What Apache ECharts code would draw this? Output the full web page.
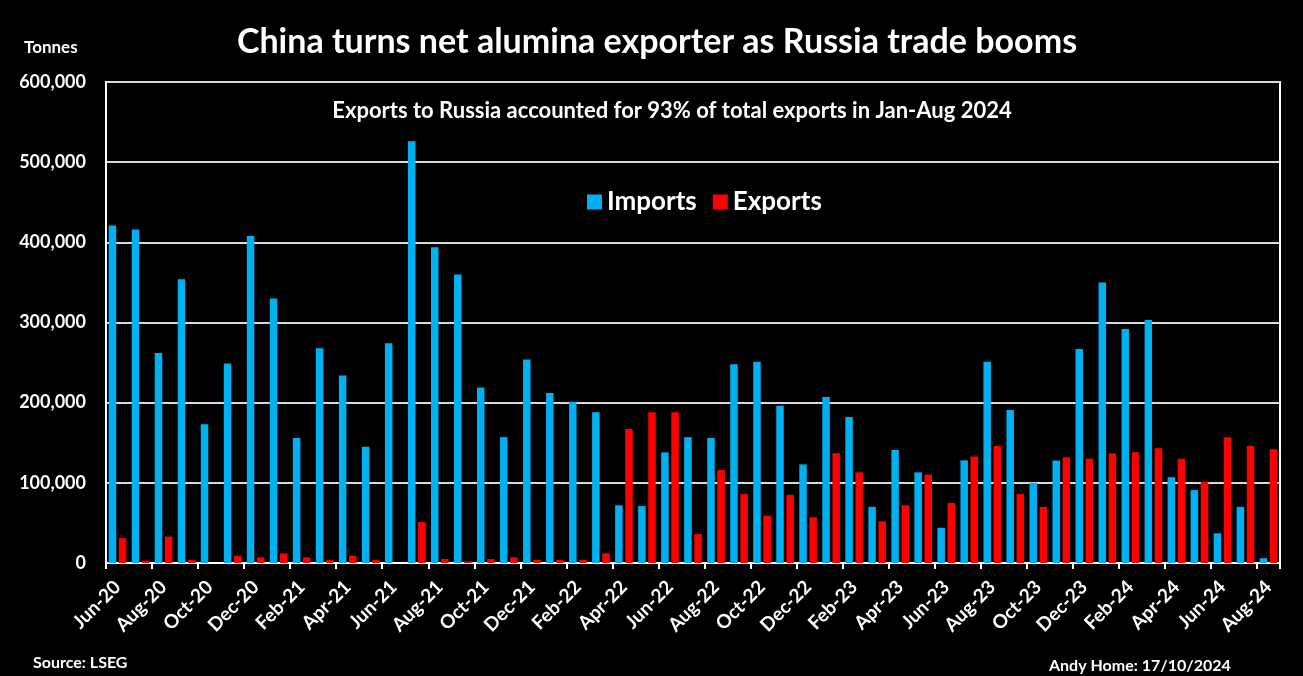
<!DOCTYPE html>
<html><head><meta charset="utf-8">
<script src="https://cdn.jsdelivr.net/npm/echarts@6/dist/echarts.min.js"></script>
<style>html,body{margin:0;padding:0;background:#000;}#c{width:1303px;height:676px;}</style>
</head><body><div id="c"></div>
<script>
const categories = ["Jun-20","Jul-20","Aug-20","Sep-20","Oct-20","Nov-20","Dec-20",
"Jan-21","Feb-21","Mar-21","Apr-21","May-21","Jun-21","Jul-21","Aug-21","Sep-21","Oct-21","Nov-21","Dec-21",
"Jan-22","Feb-22","Mar-22","Apr-22","May-22","Jun-22","Jul-22","Aug-22","Sep-22","Oct-22","Nov-22","Dec-22",
"Jan-23","Feb-23","Mar-23","Apr-23","May-23","Jun-23","Jul-23","Aug-23","Sep-23","Oct-23","Nov-23","Dec-23",
"Jan-24","Feb-24","Mar-24","Apr-24","May-24","Jun-24","Jul-24","Aug-24"];
const imports = [421000,416000,262000,354000,173000,249000,408000,
330000,156000,268000,234000,145000,274000,526000,394000,360000,219000,157000,254000,
212000,201000,188000,72000,71000,138000,157000,156000,248000,251000,196000,123000,
207000,182000,70000,141000,113000,44000,128000,251000,191000,100000,128000,267000,
350000,292000,303000,107000,91000,37000,70000,6000];
const exportsData = [31000,3000,33000,4000,0,9000,7000,
12000,7000,4000,9000,4000,0,51000,5000,2000,5000,7000,4000,
4000,4000,12000,167000,188000,188000,36000,116000,86000,59000,85000,57000,
137000,113000,52000,72000,110000,75000,133000,146000,86000,70000,132000,130000,
137000,138000,143000,130000,101000,157000,146000,142000];
const yTicks = [0,100000,200000,300000,400000,500000,600000];

const FONT = 'Lato';
const chart = echarts.init(document.getElementById('c'));
chart.setOption({
  backgroundColor:'#000',
  animation:false,
  textStyle:{fontFamily:FONT},
  title:[
    {text:'China turns net alumina exporter as Russia trade booms',left:652,top:20,textAlign:'center',
     textStyle:{color:'#fff',fontSize:34,fontWeight:'bold',fontFamily:FONT}},
    {text:'Exports to Russia accounted for 93% of total exports in Jan-Aug 2024',left:667,top:95,textAlign:'center',
     textStyle:{color:'#fff',fontSize:22,fontWeight:'bold',fontFamily:FONT}},
    {text:'Tonnes',left:19,top:34,textStyle:{color:'#fff',fontSize:17,fontWeight:'bold',fontFamily:FONT}},
    {text:'Source: LSEG',left:28,top:650,textStyle:{color:'#fff',fontSize:16,fontWeight:'bold',fontFamily:FONT}},
    {text:'Andy Home: 17/10/2024',left:1044,top:653,textStyle:{color:'#fff',fontSize:16,fontWeight:'bold',fontFamily:FONT}}
  ],
  legend:{
    data:['Imports','Exports'],top:184,left:582,itemWidth:15,itemHeight:15,itemGap:16,
    icon:'rect',
    textStyle:{color:'#fff',fontSize:26,fontWeight:'bold',fontFamily:FONT}
  },
  grid:{left:106,right:23,top:82,bottom:113,show:true,borderColor:'#fff',borderWidth:2,containLabel:false},
  xAxis:{
    type:'category',data:categories,
    axisLine:{lineStyle:{color:'#fff',width:2}},
    axisTick:{show:true,interval:1,length:6,lineStyle:{color:'#fff',width:2}},
    axisLabel:{interval:1,rotate:45,color:'#fff',fontSize:19,fontWeight:'bold',margin:21,fontFamily:FONT}
  },
  yAxis:{
    type:'value',min:0,max:600000,interval:100000,
    axisLine:{show:true,lineStyle:{color:'#fff',width:2}},
    axisTick:{show:false},
    splitLine:{lineStyle:{color:'#d9d9d9',width:2}},
    axisLabel:{color:'#fff',fontSize:18,fontWeight:'bold',margin:20,fontFamily:FONT,
      formatter:v=>v.toLocaleString('en-US')}
  },
  series:[
    {name:'Imports',type:'bar',data:imports,barWidth:7.5,barGap:'35%',itemStyle:{color:'#00B0F0'}},
    {name:'Exports',type:'bar',data:exportsData,barWidth:7.5,barGap:'35%',itemStyle:{color:'#FF0000'}}
  ]
});
</script></body></html>
